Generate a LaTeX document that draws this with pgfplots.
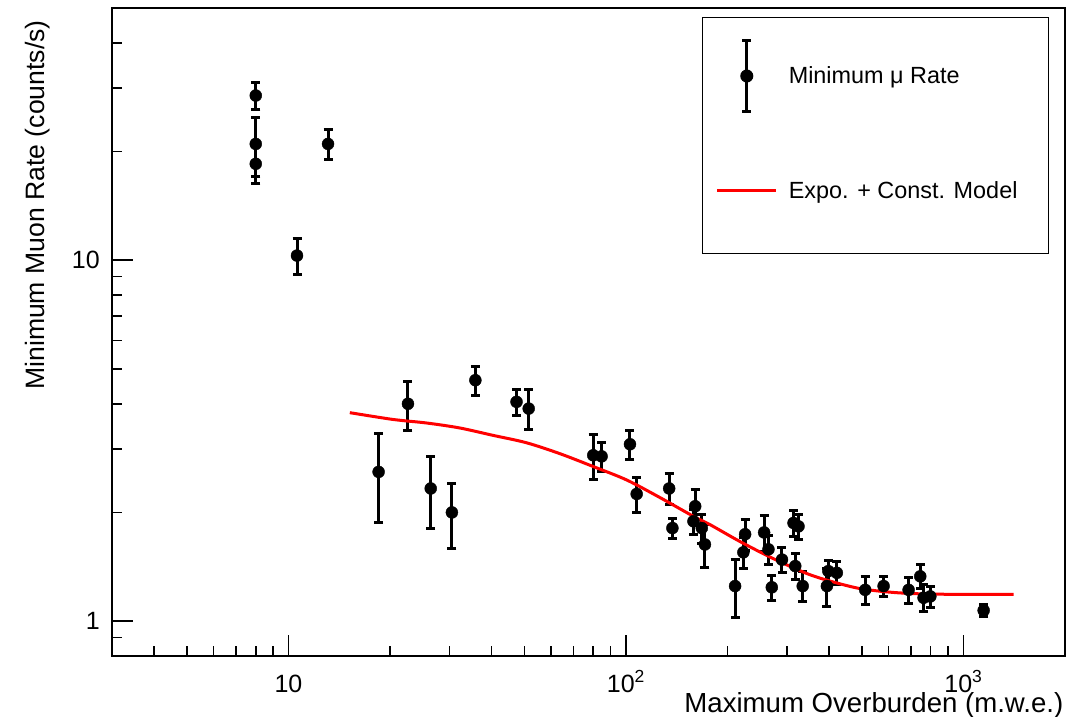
\documentclass[border=0pt]{standalone}
\usepackage{pgfplots}
\pgfplotsset{compat=1.18}
\usepackage{pgfplotstable}
\usepackage{fontspec}
\setmainfont{Liberation Sans}

\pgfplotstableread{
x y ey
8.0 28.6 2.5
8.0 21.0 3.9
8.0 18.5 2.2
10.6 10.3 1.2
13.1 21.0 2.0
18.5 2.59 0.72
22.6 4.00 0.62
26.4 2.33 0.53
30.5 2.00 0.41
35.8 4.65 0.43
47.4 4.05 0.33
51.5 3.88 0.49
80.0 2.88 0.41
84.7 2.86 0.27
102.8 3.09 0.28
107.6 2.25 0.25
134.3 2.33 0.23
137.3 1.81 0.12
158.5 1.89 0.15
160.4 2.08 0.24
167.8 1.81 0.17
171.4 1.63 0.22
210.6 1.25 0.23
222.8 1.55 0.15
225.5 1.74 0.17
256.7 1.76 0.20
264.4 1.58 0.15
270.5 1.24 0.10
290.0 1.48 0.12
313.7 1.87 0.15
324.6 1.83 0.15
317.5 1.42 0.12
334.0 1.25 0.12
394.0 1.25 0.15
398.0 1.375 0.10
421.6 1.36 0.10
511.6 1.22 0.11
580.0 1.25 0.08
688.0 1.22 0.10
745.0 1.33 0.10
762.0 1.16 0.10
798.0 1.17 0.08
1148.0 1.07 0.04
}\datatable

\pgfplotstableread{
x y
15.2 3.78
20.4 3.62
25.6 3.54
32.1 3.43
40.4 3.27
50.7 3.12
63.7 2.91
80.0 2.68
100.5 2.46
126 2.20
158.6 1.95
177.5 1.85
218 1.66
273 1.49
343 1.355
403 1.29
494 1.23
621 1.20
780 1.188
1000 1.186
1409 1.186
}\fittable

\begin{document}
\begin{tikzpicture}
\useasboundingbox (-112pt,-61pt) rectangle (969pt,656pt);
\begin{axis}[
  at={(0pt,0pt)}, anchor=south west,
  scale only axis, width=953pt, height=648pt,
  xmode=log, ymode=log,
  xmin=3, xmax=2000, ymin=0.8, ymax=50,
  axis line style={line width=1.5pt, black},
  tick style={line width=1.5pt, black},
  major tick length=21pt, minor tick length=10.5pt,
  xtick pos=bottom, ytick pos=left,
  xtick={10,100,1000},
  xticklabels={10, 10\textsuperscript{2}, 10\textsuperscript{3}},
  minor xtick={4,5,6,7,8,9,20,30,40,50,60,70,80,90,200,300,400,500,600,700,800,900,2000},
  ytick={1,10}, yticklabels={1,10},
  minor ytick={0.9,2,3,4,5,6,7,8,9,20,30,40},
  tick label style={font=\fontsize{25}{30}\selectfont},
  xticklabel style={anchor=base, inner sep=0pt, yshift=-36pt},
  yticklabel style={anchor=east, inner sep=0pt, xshift=-12pt},
  xlabel={Maximum Overburden (m.w.e.)},
  ylabel={Minimum Muon Rate (counts/s)},
  every axis x label/.style={at={([xshift=-1.5pt,yshift=-56pt]rel axis cs:1,0)}, anchor=base east, inner sep=0pt, font=\fontsize{27.6}{32}\selectfont},
  every axis y label/.style={at={([xshift=-67.5pt,yshift=-12pt]rel axis cs:0,1)}, rotate=90, anchor=base east, inner sep=0pt, font=\fontsize{26.6}{32}\selectfont},
  legend style={at={(rel axis cs:0.9832,0.9861)}, anchor=north east, draw=black, line width=1pt, fill=white,
    inner sep=0pt, font=\fontsize{23.4}{28}\selectfont, row sep=69pt, column sep=11pt,
    nodes={inner sep=0pt}},
  legend cell align=left,
]
\addplot[black, only marks, mark=*, mark size=6pt,
  legend image code/.code={
    \path (-43pt,58pt);
    \draw[black, line width=3pt] (0pt,-35pt) -- (0pt,36pt);
    \draw[black, line width=3pt] (-4.5pt,36pt) -- (4.5pt,36pt);
    \draw[black, line width=3pt] (-4.5pt,-35pt) -- (4.5pt,-35pt);
    \fill[black] (0pt,0pt) circle (6pt);
  },
  error bars/.cd, y dir=both, y explicit,
  error bar style={line width=3pt, black},
  error mark options={rotate=90, mark size=4.5pt, line width=3pt, black},
  ] table[x=x, y=y, y error=ey] {\datatable};
\addlegendentry{Minimum μ Rate}
\addplot[red, line width=3pt, smooth, no marks,
  legend image code/.code={
    \path (-43pt,-61pt);
    \draw[red, line width=3pt] (-29.5pt,0pt) -- (29.5pt,0pt);
  }] table[x=x, y=y] {\fittable};
\addlegendentry{Expo. + Const. Model\hspace*{31pt}}
\end{axis}
\end{tikzpicture}
\end{document}
